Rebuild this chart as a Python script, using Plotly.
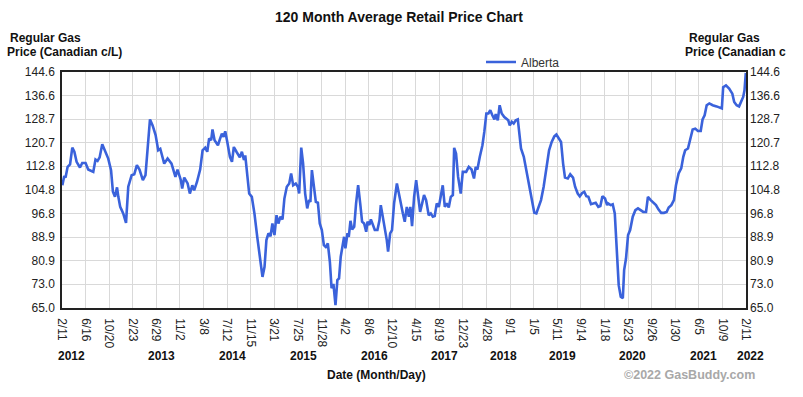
import pandas as pd
import plotly.graph_objects as go

# ---------------- data ----------------
start_date = "2012-02-11"
day_offsets = [
    2, 12, 19, 30, 43, 55, 66, 78, 96, 108, 126, 140, 167, 179, 190, 201, 215, 230, 247, 262,
    272, 283, 294, 301, 311, 327, 342, 354, 372, 386, 400, 414, 432, 446, 470, 484, 500, 514, 525, 546,
    564, 585, 606, 617, 635, 642, 653, 671, 683, 696, 706, 721, 733, 738, 751, 765, 776, 786, 797, 804,
    815, 833, 845, 854, 863, 872, 883, 897, 908, 918, 932, 950, 961, 972, 979, 989, 1000, 1014, 1028, 1043,
    1057, 1071, 1082, 1092, 1103, 1114, 1124, 1135, 1146, 1156, 1167, 1178, 1188, 1201, 1214, 1224, 1235, 1249, 1260, 1267,
    1278, 1288, 1299, 1310, 1320, 1327, 1335, 1345, 1356, 1367, 1377, 1388, 1399, 1409, 1420, 1431, 1440, 1450, 1461, 1471,
    1480, 1489, 1497, 1507, 1514, 1525, 1532, 1541, 1550, 1561, 1571, 1582, 1593, 1603, 1614, 1625, 1632, 1642, 1650, 1660,
    1671, 1685, 1696, 1703, 1714, 1724, 1735, 1742, 1753, 1763, 1774, 1789, 1799, 1810, 1821, 1831, 1842, 1853, 1861, 1870,
    1881, 1892, 1902, 1913, 1924, 1934, 1945, 1959, 1970, 1981, 1991, 2002, 2013, 2024, 2034, 2045, 2055, 2066, 2077, 2088,
    2095, 2105, 2116, 2130, 2141, 2159, 2173, 2188, 2201, 2210, 2219, 2232, 2246, 2256, 2267, 2278, 2288, 2299, 2310, 2317,
    2328, 2338, 2349, 2363, 2374, 2384, 2392, 2403, 2413, 2424, 2435, 2442, 2452, 2467, 2481, 2495, 2509, 2523, 2534, 2545,
    2559, 2573, 2587, 2602, 2616, 2630, 2641, 2655, 2666, 2677, 2687, 2702, 2715, 2730, 2741, 2755, 2766, 2779, 2790, 2801,
    2812, 2826, 2840, 2851, 2865, 2876, 2887, 2901, 2912, 2917, 2931, 2942, 2953, 2960, 2967, 2974, 2985, 2996, 3003, 3013,
    3024, 3035, 3049, 3063, 3077, 3091, 3105, 3120, 3130, 3145, 3159, 3173, 3187, 3201, 3216, 3230, 3241, 3255, 3269, 3280,
    3294, 3308, 3319, 3329, 3344, 3354, 3369, 3383, 3397, 3412, 3422, 3433, 3444, 3458, 3476, 3497, 3515, 3525, 3532, 3547,
    3564, 3581, 3591, 3604, 3617, 3628, 3639, 3646, 3653,
]
prices = [
    106.4, 109.5, 109.0, 112.6, 113.4, 119.1, 117.7, 114.3, 112.4, 113.9, 113.9, 111.7, 110.9, 115.1, 114.6, 115.8, 120.2, 117.7, 115.4, 111.5,
    104.2, 102.5, 105.7, 102.5, 99.1, 96.9, 93.7, 105.9, 109.8, 110.1, 113.2, 111.7, 108.1, 109.8, 128.6, 126.6, 123.3, 118.2, 118.7, 113.7,
    115.4, 113.7, 109.2, 111.7, 108.1, 105.3, 109.0, 107.0, 103.6, 106.4, 104.7, 107.5, 110.9, 111.7, 118.2, 119.1, 117.7, 122.2, 121.6, 125.2,
    121.6, 119.9, 122.2, 123.8, 122.7, 124.6, 121.0, 116.0, 114.3, 119.3, 117.7, 115.8, 117.7, 114.9, 116.5, 109.2, 103.6, 102.5, 96.9, 89.0,
    82.3, 75.5, 78.9, 87.9, 90.2, 89.2, 93.5, 89.6, 96.3, 93.5, 95.8, 94.9, 101.9, 105.9, 107.0, 110.4, 106.4, 107.0, 105.9, 103.6,
    119.1, 113.7, 103.6, 98.6, 101.4, 100.8, 111.5, 107.0, 100.8, 100.5, 93.5, 91.3, 86.2, 85.6, 86.8, 80.6, 71.7, 73.1, 66.0, 74.4,
    75.0, 82.3, 85.6, 89.0, 85.1, 90.2, 89.0, 94.4, 91.5, 92.4, 100.3, 106.4, 100.3, 94.1, 93.5, 90.7, 94.1, 93.0, 94.9, 93.3,
    91.3, 91.3, 94.6, 99.7, 95.8, 91.3, 87.9, 84.0, 90.2, 91.3, 100.3, 107.0, 103.6, 100.3, 96.9, 94.1, 99.1, 95.8, 99.1, 92.6,
    102.5, 108.1, 103.1, 97.4, 100.3, 103.1, 101.4, 96.3, 96.9, 95.8, 96.0, 100.3, 99.1, 102.5, 106.4, 99.1, 100.3, 98.9, 102.5, 103.1,
    119.0, 117.1, 109.2, 103.6, 110.9, 110.9, 112.6, 111.7, 108.7, 112.6, 111.7, 116.0, 119.9, 124.4, 130.6, 130.6, 131.7, 130.0, 128.6, 130.4,
    128.3, 133.4, 130.6, 129.4, 128.9, 128.3, 126.6, 127.8, 127.2, 128.3, 128.6, 123.8, 118.8, 116.0, 111.5, 106.4, 101.9, 97.1, 96.9, 98.9,
    101.4, 105.9, 112.6, 118.2, 121.0, 122.9, 123.5, 122.2, 121.0, 113.7, 109.0, 108.7, 110.1, 109.0, 105.9, 103.6, 102.7, 103.8, 104.2, 102.7,
    102.5, 100.0, 100.3, 100.5, 99.1, 99.4, 102.7, 101.9, 99.7, 100.3, 99.7, 100.0, 96.9, 89.0, 80.0, 72.7, 68.8, 68.3, 77.8, 81.7,
    89.6, 91.3, 95.8, 98.0, 98.6, 98.0, 97.4, 97.4, 102.5, 101.4, 100.5, 99.7, 98.2, 97.1, 97.1, 97.4, 98.9, 99.7, 101.4, 106.4,
    110.4, 112.1, 116.0, 118.2, 118.8, 121.6, 125.2, 125.5, 124.7, 124.7, 128.6, 130.0, 133.4, 134.0, 133.4, 133.0, 132.6, 132.3, 139.5, 140.1,
    139.0, 137.3, 134.5, 133.4, 133.0, 134.5, 136.2, 138.4, 144.3,
]
series_name = "Alberta"

tick_dates = [
    "2012-02-11", "2012-06-16", "2012-10-20", "2013-02-23", "2013-06-29", "2013-11-02",
    "2014-03-08", "2014-07-12", "2014-11-15", "2015-03-21", "2015-07-25", "2015-11-28",
    "2016-04-02", "2016-08-06", "2016-12-10", "2017-04-15", "2017-08-19", "2017-12-23",
    "2018-04-28", "2018-09-01", "2019-01-05", "2019-05-11", "2019-09-14", "2020-01-18",
    "2020-05-23", "2020-09-26", "2021-01-30", "2021-06-05", "2021-10-09", "2022-02-11",
]
tick_labels = [
    "2/11", "6/16", "10/20", "2/23", "6/29", "11/2", "3/8", "7/12", "11/15", "3/21",
    "7/25", "11/28", "4/2", "8/6", "12/10", "4/15", "8/19", "12/23", "4/28", "9/1",
    "1/5", "5/11", "9/14", "1/18", "5/23", "9/26", "1/30", "6/5", "10/9", "2/11",
]
year_labels = ["2012", "2013", "2014", "2015", "2016", "2017", "2018", "2019", "2020", "2021", "2022"]
y_ticks = [65.0, 73.0, 80.9, 88.9, 96.8, 104.8, 112.8, 120.7, 128.7, 136.6, 144.6]

# ---------------- figure ----------------
W, H = 803, 397
L, R, T, B = 62, 57, 72, 89
PW, PH = W - L - R, H - T - B


def px(x):
    return (x - L) / PW


def py(y):
    return (H - B - y) / PH


FONT = "Arial, 'Liberation Sans', sans-serif"
LINE_COLOR = "#3A62DB"

dates = pd.Timestamp(start_date) + pd.to_timedelta(day_offsets, unit="D")

fig = go.Figure()
fig.add_trace(go.Scatter(
    x=dates, y=prices, mode="lines", name=series_name,
    line=dict(color=LINE_COLOR, width=2.6),
))
# invisible copy so the right-hand axis is drawn
fig.add_trace(go.Scatter(
    x=dates, y=prices, mode="lines", yaxis="y2", showlegend=False,
    line=dict(color=LINE_COLOR, width=2.6), opacity=0, hoverinfo="skip",
))

y_text = [f"{v:.1f}" for v in y_ticks]
yaxis_common = dict(
    range=[y_ticks[0], y_ticks[-1]], tickmode="array", tickvals=y_ticks, ticktext=y_text,
    tickfont=dict(family=FONT, size=12, color="#222"), ticks="", ticklabelstandoff=3,
    zeroline=False, fixedrange=True, automargin=False,
)

fig.update_layout(
    width=W, height=H,
    margin=dict(l=L, r=R, t=T, b=B, pad=0, autoexpand=False),
    paper_bgcolor="white", plot_bgcolor="white",
    showlegend=True,
    legend=dict(
        x=px(481), y=py(62), xanchor="left", yanchor="middle", orientation="h",
        font=dict(family=FONT, size=12, color="#333"), bgcolor="rgba(0,0,0,0)",
        borderwidth=0, itemwidth=30,
    ),
    xaxis=dict(
        type="date", range=["2012-02-11", "2022-02-12"],
        tickmode="array", tickvals=tick_dates, ticktext=tick_labels, tickangle=90,
        tickfont=dict(family=FONT, size=12, color="#222"), ticks="",
        showgrid=True, gridcolor="#D9D9D9", gridwidth=1.3,
        showline=True, linecolor="#222", linewidth=1.5, mirror=True,
        zeroline=False, fixedrange=True, ticklabelstandoff=6, automargin=False,
    ),
    yaxis=dict(
        **yaxis_common, side="left",
        showgrid=True, gridcolor="#D9D9D9", gridwidth=1.3,
        showline=True, linecolor="#222", linewidth=1.5, mirror=True,
    ),
    yaxis2=dict(
        **yaxis_common, side="right", overlaying="y", showgrid=False, showline=False,
    ),
)

annotations = [
    dict(text="<b>120 Month Average Retail Price Chart</b>", x=px(399), y=py(17),
         font=dict(size=14, color="#111")),
    dict(text="<b>Regular Gas</b>", x=px(8), y=py(38), xanchor="left",
         font=dict(size=12, color="#111")),
    dict(text="<b>Price (Canadian c/L)</b>", x=px(5), y=py(52), xanchor="left",
         font=dict(size=12, color="#111")),
    dict(text="<b>Regular Gas</b>", x=px(687), y=py(38), xanchor="left",
         font=dict(size=12, color="#111")),
    dict(text="<b>Price (Canadian c</b>", x=px(683), y=py(52), xanchor="left",
         font=dict(size=12, color="#111")),
    dict(text="<b>Date (Month/Day)</b>", x=px(376), y=py(375),
         font=dict(size=12, color="#111")),
    dict(text="<b>©2022 GasBuddy.com</b>", x=px(689), y=py(375),
         font=dict(size=12.5, color="#A8A8A8")),
]
year_x = [71.5, 161, 232, 303, 374, 444, 503, 562, 632, 703, 750]
for label, xp in zip(year_labels, year_x):
    annotations.append(dict(text=f"<b>{label}</b>", x=px(xp), y=py(356),
                            font=dict(size=12, color="#111")))

for a in annotations:
    a.setdefault("xanchor", "center")
    a.update(xref="paper", yref="paper", yanchor="middle", showarrow=False)
    a["font"]["family"] = FONT
fig.update_layout(annotations=annotations)

fig.write_html(
    "out.html",
    config={"displayModeBar": False},
    post_script="document.body.style.margin='0';document.body.style.overflow='hidden';",
)
